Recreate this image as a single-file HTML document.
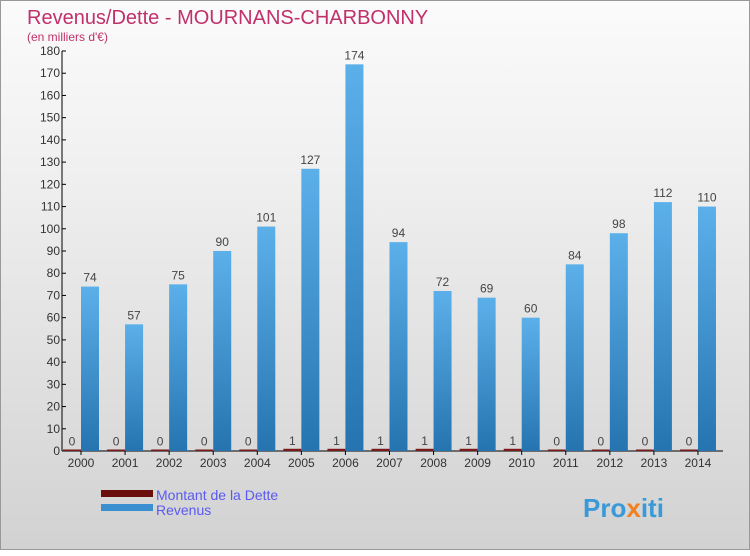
<!DOCTYPE html>
<html><head><meta charset="utf-8"><style>
body{margin:0;width:750px;height:550px;overflow:hidden;font-family:"Liberation Sans",sans-serif}
#wrap{position:absolute;left:0;top:0;width:748px;height:548px;border:1px solid #999;background:linear-gradient(#fbfbfb,#f0f0f0 30%,#d2d2d2)}
</style></head><body>
<div id="wrap">
<svg width="750" height="550">
<defs><linearGradient id="gb" x1="0" y1="0" x2="0" y2="1"><stop offset="0" stop-color="#5cb0ea"/><stop offset="1" stop-color="#2574b0"/></linearGradient></defs>
<text x="26" y="23" font-size="20" fill="#c0306a">Revenus/Dette - MOURNANS-CHARBONNY</text>
<text x="26" y="40" font-size="12" fill="#c0306a">(en milliers d'€)</text>
<g id="g"></g>
<rect x="100" y="489" width="52" height="7" fill="#6b0d0d"/>
<rect x="100" y="503" width="52" height="7" fill="#3a8fd0"/>
<text x="155" y="499" font-size="14" fill="#5a5af0">Montant de la Dette</text>
<text x="155" y="514" font-size="14" fill="#5a5af0">Revenus</text>
<text x="582" y="516" font-size="26" font-weight="bold" fill="#3a9ad8">Pro<tspan fill="#f08020">x</tspan>iti</text>
</svg></div>
<script>
const years=["2000","2001","2002","2003","2004","2005","2006","2007","2008","2009","2010","2011","2012","2013","2014"];
const revenus=[74,57,75,90,101,127,174,94,72,69,60,84,98,112,110];
const dette=[0,0,0,0,0,1,1,1,1,1,1,0,0,0,0];
const yTicks=[0,10,20,30,40,50,60,70,80,90,100,110,120,130,140,150,160,170,180];
const NS="http://www.w3.org/2000/svg",g=document.getElementById('g');
const y=v=>450-v*400/180, x=i=>80+i*44.07;
function mk(t,a,txt){const e=document.createElementNS(NS,t);for(const k in a)e.setAttribute(k,a[k]);if(txt!=null)e.textContent=txt;g.appendChild(e);return e;}
let e=mk('line',{x1:61,y1:50,x2:61,y2:450,stroke:'#000'});


e=mk('line',{x1:61,y1:450,x2:722,y2:450,stroke:'#000'});


yTicks.forEach(v=>{
 let t=mk('line',{x1:61,y1:y(v),x2:65,y2:y(v),stroke:'#000'});
 
 
 let l=mk('text',{x:59,y:y(v)+4,'font-size':12,'text-anchor':'end',fill:'#333'},v);
 
 
});
years.forEach((yr,i)=>{
 const c=x(i);
 let t=mk('line',{x1:c,y1:450,x2:c,y2:454,stroke:'#000'});
 
 
 let l=mk('text',{x:c,y:466,'font-size':12,'text-anchor':'middle',fill:'#333'},yr);
 
 
 let hd=Math.max(450-y(dette[i]),1.5);
 let b=mk('rect',{x:c-18,y:450-hd,width:18,height:hd,fill:'#7a1a1a'});
 
 
 let v=mk('text',{x:c-9,y:450-hd-4,'font-size':12,'text-anchor':'middle',fill:'#444'},dette[i]);
 
 
 let r=mk('rect',{x:c,y:y(revenus[i]),width:18,height:450-y(revenus[i]),fill:'url(#gb)'});
 
 
 let rv=mk('text',{x:c+9,y:y(revenus[i])-5,'font-size':12,'text-anchor':'middle',fill:'#444'},revenus[i]);
 
 
});
</script>
</body></html>
